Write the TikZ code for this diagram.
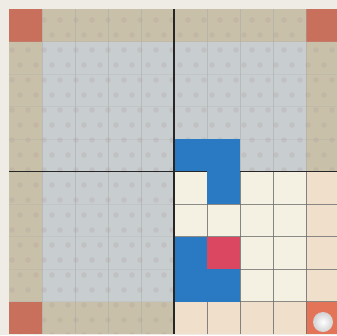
\documentclass[tikz,border=0pt]{standalone}
\usepackage{tikz}

\definecolor{paper}{RGB}{238,236,228}
\definecolor{tanrim}{RGB}{201,192,170}
\definecolor{greyin}{RGB}{200,205,207}
\definecolor{rimred}{RGB}{201,112,92}
\definecolor{creamin}{RGB}{244,241,226}
\definecolor{peachrim}{RGB}{240,223,203}
\definecolor{tileblue}{RGB}{42,121,195}
\definecolor{tilered}{RGB}{219,70,96}
\definecolor{goalred}{RGB}{228,116,88}
\definecolor{spot}{RGB}{170,150,148}

\begin{document}
\begin{tikzpicture}[
x=1pt, y=-1pt,
gridline/.style={draw=gray!70, line width=.4pt, opacity=.45},
flatline/.style={draw=gray!70, line width=.4pt, opacity=.2},
darkline/.style={draw=gray!80!black, line width=.5pt, opacity=.7},
midline/.style={draw=black!85, line width=1.3pt},
blue tile/.style={fill=tileblue},
red tile/.style={fill=tilered}
]
\fill[paper] (0,0) rectangle (337,335);
\useasboundingbox (0,0) rectangle (337,335);
\clip (0,0) rectangle (337,335);

% board: rim and inner fields
\fill[tanrim] (9,9) rectangle (339,334);
\fill[greyin] (42,41.5) rectangle (306,301.5);
\fill[peachrim] (174,171.5) rectangle (339,334);
\fill[creamin] (174,171.5) rectangle (306,301.5);

% faint spots on the grey quarters
\begin{scope}
\clip (9,9) rectangle (339,171.5) (9,171.5) rectangle (174,334);
\foreach \i in {0,...,22}
  \foreach \j in {0,...,22}
    \fill[spot, opacity=.22] ({4+16*\i+8*mod(\j,2)},{5+15*\j}) circle (2.8);
\end{scope}

% corners
\fill[rimred] (9,9) rectangle (42,41.5);
\fill[rimred] (306,9) rectangle (339,41.5);
\fill[rimred] (9,301.5) rectangle (42,334);
\fill[goalred] (306,301.5) rectangle (339,334);

% grid lines
\foreach \k in {1,...,9} {
  \draw[gridline] ({9+33*\k},9) -- ({9+33*\k},334);
  \draw[flatline] (9,{9+32.5*\k}) -- (339,{9+32.5*\k});
}
\begin{scope}
\clip (174,171.5) rectangle (339,334);
\foreach \k in {6,...,9} {
  \draw[darkline] ({9+33*\k},171.5) -- ({9+33*\k},334);
  \draw[darkline] (174,{9+32.5*\k}) -- (339,{9+32.5*\k});
}
\end{scope}

% centre cross
\draw[midline] (174,9) -- (174,334);
\draw[midline] (9,171.5) -- (339,171.5);

% tiles
\fill[blue tile] (174.6,139) rectangle (240,170.8);
\fill[blue tile] (207,139) rectangle (240,204);
\fill[blue tile] (174.6,236.5) rectangle (207.5,301.5);
\fill[blue tile] (174.6,269) rectangle (240,301.5);
\fill[red tile] (207,236.5) rectangle (240,269);

% ball
\shade[inner color=white, outer color=gray!35] (323,322) circle (10);
\end{tikzpicture}
\end{document}
